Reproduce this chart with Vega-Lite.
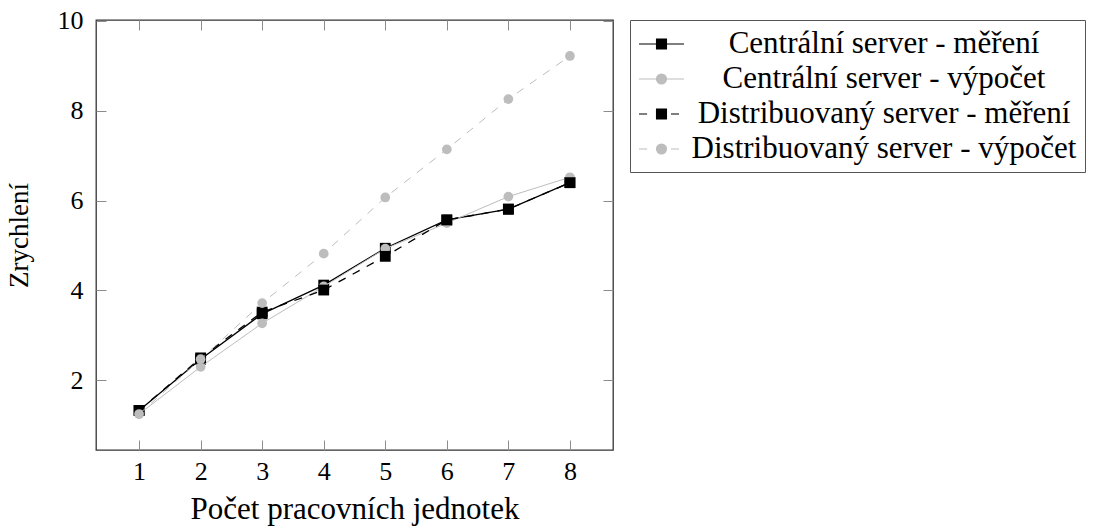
{
  "$schema": "https://vega.github.io/schema/vega-lite/v6.json",
  "width": 517,
  "height": 430,
  "autosize": {"type": "none"},
  "padding": {"left": 96, "top": 20, "right": 481, "bottom": 79},
  "background": "white",
  "config": {
    "view": {"stroke": "#333333", "strokeWidth": 1.3},
    "font": "Liberation Serif",
    "axis": {
      "grid": false,
      "domain": false,
      "tickColor": "#8c8c8c",
      "tickSize": -10,
      "tickWidth": 1,
      "labelFont": "Liberation Serif",
      "labelFontSize": 26,
      "labelColor": "black",
      "titleFont": "Liberation Serif",
      "titleFontWeight": "normal",
      "titleColor": "black"
    },
    "legend": {
      "title": null,
      "orient": "right",
      "offset": 16,
      "padding": 8,
      "strokeColor": "#555555",
      "fillColor": "white",
      "labelFont": "Liberation Serif",
      "labelFontSize": 31,
      "labelColor": "black",
      "labelLimit": 0,
      "labelAlign": "center",
      "labelOffset": 214,
      "rowPadding": 4,
      "symbolSize": 900,
      "symbolStrokeWidth": 1.2,
      "symbolOpacity": 1
    }
  },
  "data": {
    "values": [
      {"n": 1, "series": "Centrální server - měření", "v": 1.33},
      {"n": 2, "series": "Centrální server - měření", "v": 2.47},
      {"n": 3, "series": "Centrální server - měření", "v": 3.48},
      {"n": 4, "series": "Centrální server - měření", "v": 4.12},
      {"n": 5, "series": "Centrální server - měření", "v": 4.94},
      {"n": 6, "series": "Centrální server - měření", "v": 5.57},
      {"n": 7, "series": "Centrální server - měření", "v": 5.81},
      {"n": 8, "series": "Centrální server - měření", "v": 6.40},
      {"n": 1, "series": "Centrální server - výpočet", "v": 1.25},
      {"n": 2, "series": "Centrální server - výpočet", "v": 2.30},
      {"n": 3, "series": "Centrální server - výpočet", "v": 3.27},
      {"n": 4, "series": "Centrální server - výpočet", "v": 4.09},
      {"n": 5, "series": "Centrální server - výpočet", "v": 4.93},
      {"n": 6, "series": "Centrální server - výpočet", "v": 5.50},
      {"n": 7, "series": "Centrální server - výpočet", "v": 6.09},
      {"n": 8, "series": "Centrální server - výpočet", "v": 6.52},
      {"n": 1, "series": "Distribuovaný server - měření", "v": 1.33},
      {"n": 2, "series": "Distribuovaný server - měření", "v": 2.50},
      {"n": 3, "series": "Distribuovaný server - měření", "v": 3.52},
      {"n": 4, "series": "Distribuovaný server - měření", "v": 4.01},
      {"n": 5, "series": "Distribuovaný server - měření", "v": 4.76},
      {"n": 6, "series": "Distribuovaný server - měření", "v": 5.57},
      {"n": 7, "series": "Distribuovaný server - měření", "v": 5.81},
      {"n": 8, "series": "Distribuovaný server - měření", "v": 6.40},
      {"n": 1, "series": "Distribuovaný server - výpočet", "v": 1.25},
      {"n": 2, "series": "Distribuovaný server - výpočet", "v": 2.47},
      {"n": 3, "series": "Distribuovaný server - výpočet", "v": 3.72},
      {"n": 4, "series": "Distribuovaný server - výpočet", "v": 4.82},
      {"n": 5, "series": "Distribuovaný server - výpočet", "v": 6.07},
      {"n": 6, "series": "Distribuovaný server - výpočet", "v": 7.14},
      {"n": 7, "series": "Distribuovaný server - výpočet", "v": 8.26},
      {"n": 8, "series": "Distribuovaný server - výpočet", "v": 9.22}
    ]
  },
  "layer": [
    {
      "transform": [{"filter": "datum.series == 'Centrální server - měření'"}],
      "mark": {"type": "line", "color": "#000000", "strokeWidth": 1.3, "point": {"filled": true, "shape": "square", "size": 117, "color": "#000000", "opacity": 1}},
      "encoding": {
        "x": {
          "field": "n", "type": "quantitative",
          "scale": {"domain": [0.3, 8.7], "nice": false, "zero": false},
          "axis": {"orient": "bottom", "values": [1, 2, 3, 4, 5, 6, 7, 8], "labelPadding": 18, "title": "Počet pracovních jednotek", "titleFontSize": 31, "titlePadding": 10}
        },
        "y": {
          "field": "v", "type": "quantitative",
          "scale": {"domain": [0.45, 10.02], "nice": false, "zero": false},
          "axis": {"orient": "left", "values": [2, 4, 6, 8, 10], "labelPadding": 23, "title": "Zrychlení", "titleFontSize": 27, "titlePadding": 24}
        }
      }
    },
    {
      "transform": [{"filter": "datum.series == 'Centrální server - výpočet'"}],
      "mark": {"type": "line", "color": "#bdbdbd", "strokeWidth": 1.0, "point": {"filled": true, "shape": "circle", "size": 95, "color": "#bdbdbd", "opacity": 1}},
      "encoding": {
        "x": {
          "field": "n", "type": "quantitative",
          "scale": {"domain": [0.3, 8.7], "nice": false, "zero": false},
          "axis": {"orient": "top", "values": [1, 2, 3, 4, 5, 6, 7, 8], "labels": false, "title": null}
        },
        "y": {
          "field": "v", "type": "quantitative",
          "scale": {"domain": [0.45, 10.02], "nice": false, "zero": false},
          "axis": {"orient": "right", "values": [2, 4, 6, 8, 10], "labels": false, "title": null}
        }
      }
    },
    {
      "transform": [{"filter": "datum.series == 'Distribuovaný server - měření'"}],
      "mark": {"type": "line", "color": "#000000", "strokeWidth": 1.3, "strokeDash": [8, 8], "point": {"filled": true, "shape": "square", "size": 117, "color": "#000000", "opacity": 1}},
      "encoding": {
        "x": {"field": "n", "type": "quantitative", "scale": {"domain": [0.3, 8.7], "nice": false, "zero": false}, "axis": null},
        "y": {"field": "v", "type": "quantitative", "scale": {"domain": [0.45, 10.02], "nice": false, "zero": false}, "axis": null}
      }
    },
    {
      "transform": [{"filter": "datum.series == 'Distribuovaný server - výpočet'"}],
      "mark": {"type": "line", "color": "#bdbdbd", "strokeWidth": 1.0, "strokeDash": [8, 8], "point": {"filled": true, "shape": "circle", "size": 95, "color": "#bdbdbd", "opacity": 1}},
      "encoding": {
        "x": {"field": "n", "type": "quantitative", "scale": {"domain": [0.3, 8.7], "nice": false, "zero": false}, "axis": null},
        "y": {"field": "v", "type": "quantitative", "scale": {"domain": [0.45, 10.02], "nice": false, "zero": false}, "axis": null}
      }
    },
    {
      "transform": [{"filter": "false"}],
      "mark": {"type": "point", "filled": true, "opacity": 1},
      "encoding": {
        "color": {
          "field": "series", "type": "nominal",
          "scale": {
            "domain": ["Centrální server - měření", "Centrální server - výpočet", "Distribuovaný server - měření", "Distribuovaný server - výpočet"],
            "range": ["#000000", "#bdbdbd", "#000000", "#bdbdbd"]
          },
          "legend": {"title": null}
        },
        "stroke": {
          "field": "series", "type": "nominal",
          "scale": {
            "domain": ["Centrální server - měření", "Centrální server - výpočet", "Distribuovaný server - měření", "Distribuovaný server - výpočet"],
            "range": ["#000000", "#bdbdbd", "#000000", "#bdbdbd"]
          },
          "legend": {"title": null}
        },
        "shape": {
          "field": "series", "type": "nominal",
          "scale": {
            "domain": ["Centrální server - měření", "Centrální server - výpočet", "Distribuovaný server - měření", "Distribuovaný server - výpočet"],
            "range": [
              "M-1,0H2M0.17,-0.33H0.83V0.33H0.17Z",
              "M-1,0H2M0.17,0A0.33,0.33,0,1,0,0.83,0A0.33,0.33,0,1,0,0.17,0Z",
              "M-1,0H-0.46M1.13,0H1.67M0.17,-0.33H0.83V0.33H0.17Z",
              "M-1,0H-0.46M1.13,0H1.67M0.17,0A0.33,0.33,0,1,0,0.83,0A0.33,0.33,0,1,0,0.17,0Z"
            ]
          },
          "legend": {"title": null}
        }
      }
    }
  ],
  "resolve": {"axis": {"x": "independent", "y": "independent"}}
}
